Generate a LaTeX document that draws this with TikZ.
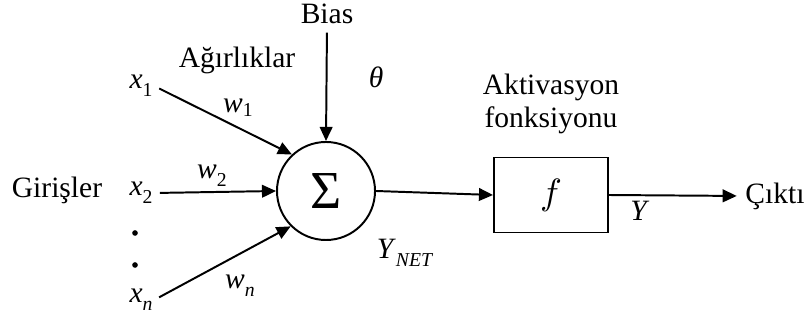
\documentclass[tikz,border=0pt]{standalone}
\usepackage{fontspec}
\setmainfont{Liberation Serif}
\usepackage{tikz}
\usetikzlibrary{arrows.meta,positioning,shapes.geometric}
\newcommand{\lowidx}[1]{\raisebox{-0.6ex}{\fontsize{14}{14}\selectfont #1}}

\begin{document}
\begin{tikzpicture}[
    x=0.025cm, y=-0.025cm,
    txt/.style={
        font=\fontsize{21}{24}\selectfont,
        inner sep=1pt,
        align=center
    },
    sumnode/.style={
        circle,
        draw=black,
        line width=1.4pt,
        minimum size=2.45cm,
        inner sep=0pt,
        font=\fontsize{38}{38}\selectfont
    },
    actbox/.style={
        rectangle,
        draw=black,
        line width=1.4pt,
        minimum width=2.85cm,
        minimum height=1.875cm,
        inner sep=0pt
    },
    arr/.style={
        -{Triangle[length=10pt,width=9pt]},
        line width=1.4pt
    },
    dotnode/.style={
        circle,
        fill=black,
        minimum size=4pt,
        inner sep=0pt
    }
]
\useasboundingbox (0,0) rectangle (810,320);

% Summation and activation
\node[sumnode] (sum) at (326,191) {Σ};
\node[actbox] (act) at (551,195) {\scalebox{2.6}{$f$}};

% Inputs
\node[txt] (x1) at (141,86) {\textit{x}\lowidx{1}};
\node[txt] (x2) at (141,193) {\textit{x}\lowidx{2}};
\node[txt] (xn) at (141,300) {\textit{x}\lowidx{\textit{n}}};
\node[dotnode] (d1) at (135,233) {};
\node[dotnode] (d2) at (135,265) {};
\node[txt] (inputs) at (57,190) {Girişler};

% Bias
\node[txt] (bias) at (327,14) {Bias};
\node[txt] (theta) at (376,77) {\textit{θ}};

% Weights
\node[txt] (weights) at (237,60) {Ağırlıklar};
\node[txt] (w1) at (238,108) {\textit{w}\raisebox{-0.3ex}{\fontsize{14}{14}\selectfont 1}};
\node[txt] (w2) at (212,176) {\textit{w}\lowidx{2}};
\node[txt] (wn) at (240,286) {\textit{w}\lowidx{\textit{n}}};

% Output side
\node[txt] (ynet) at (405,253) {\textit{Y}\lowidx{\textit{NET}}};
\node[txt] (actlabel) at (551,104) {Aktivasyon\\fonksiyonu};
\node[txt] (y) at (640,211) {\textit{Y}};
\node[txt] (out) at (775,196) {Çıktı};

% Arrows
\draw[arr, shorten <=4pt] (x1.east) -- (sum.133);
\draw[arr, shorten <=4pt] (x2.east) -- (sum.west);
\draw[arr, shorten <=4pt] (xn.east) -- (sum.225);
\draw[arr, shorten <=5pt] (bias.south) -- (sum.north);
\draw[arr] (sum.east) -- (act.west);
\draw[arr, shorten >=5pt] (act.east) -- (out.west);

\end{tikzpicture}
\end{document}
